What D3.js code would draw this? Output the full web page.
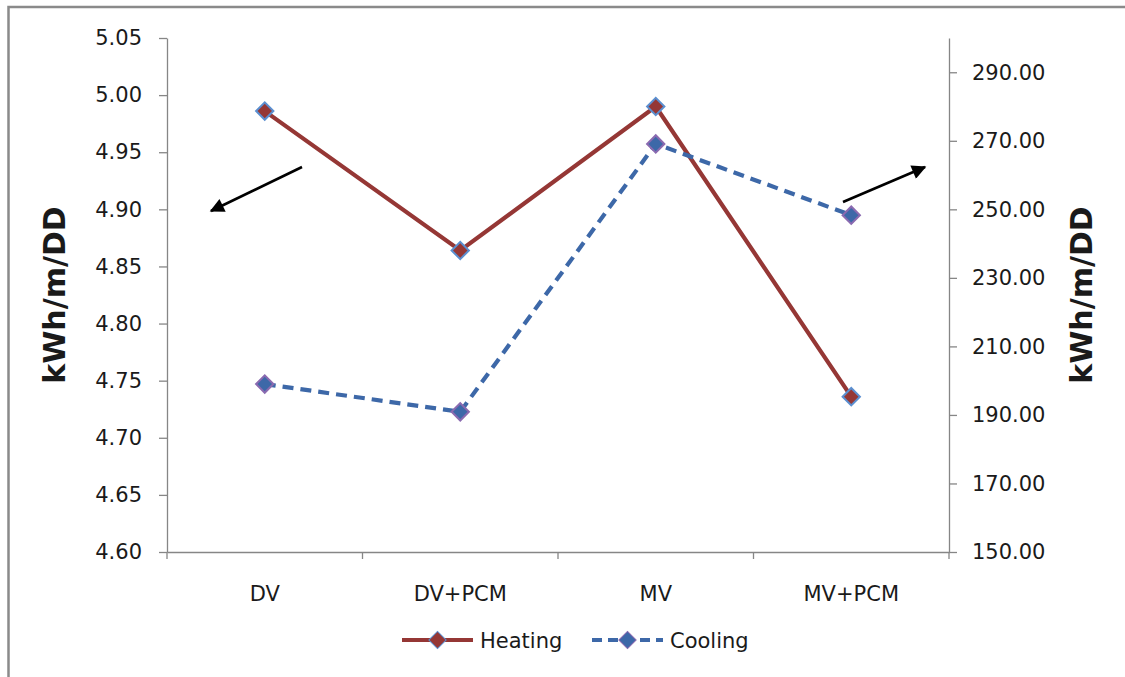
<!DOCTYPE html>
<html>
<head>
<meta charset="utf-8">
<script src="https://cdn.jsdelivr.net/npm/d3@7"></script>
<style>
  body { margin: 0; background: #fff; overflow: hidden; }
  svg { display: block; }
  svg text { font-family: "DejaVu Sans", sans-serif; fill: #1a1a1a; }
</style>
</head>
<body>
<div id="chart"></div>
<script>
// data
const categories = ["DV", "DV+PCM", "MV", "MV+PCM"];
const heating = [4.986, 4.864, 4.990, 4.736];   // left axis
const cooling = [199.0, 190.9, 269.1, 248.3];   // right axis
const leftTicks = [4.60, 4.65, 4.70, 4.75, 4.80, 4.85, 4.90, 4.95, 5.00, 5.05];
const rightTicks = [150, 170, 190, 210, 230, 250, 270, 290];

const W = 1125, H = 677;
const plot = {left: 167, right: 949, top: 38, bottom: 552};

const svg = d3.select("#chart").append("svg")
    .attr("width", W)
    .attr("height", H);

// outer frame: only its top and left edges are inside the picture
svg.append("path")
    .attr("d", "M8.5," + H + " V7 H" + W)
    .attr("fill", "none")
    .attr("stroke", "#8a8a8a")
    .attr("stroke-width", 2.5);

const x = d3.scaleBand()
    .domain(categories)
    .range([plot.left, plot.right]);

const yL = d3.scaleLinear()
    .domain([4.60, 5.05])
    .range([plot.bottom, plot.top]);

const yR = d3.scaleLinear()
    .domain([150, 300])
    .range([plot.bottom, plot.top]);

const axisColor = "#868686";

// left axis
const gL = svg.append("g")
    .attr("transform", "translate(" + plot.left + ",0)")
    .call(d3.axisLeft(yL).tickValues(leftTicks).tickFormat(d3.format(".2f"))
        .tickSizeInner(8).tickSizeOuter(0).tickPadding(17));

// right axis
const gR = svg.append("g")
    .attr("transform", "translate(" + plot.right + ",0)")
    .call(d3.axisRight(yR).tickValues(rightTicks).tickFormat(d3.format(".2f"))
        .tickSizeInner(8).tickSizeOuter(0).tickPadding(15));

// bottom axis: labels at band centres, ticks at band edges
const gB = svg.append("g")
    .attr("transform", "translate(0," + plot.bottom + ")")
    .call(d3.axisBottom(x).tickSize(0).tickSizeOuter(0).tickPadding(34));

const edges = categories.map(c => x(c)).concat([x.range()[1]]);
gB.selectAll(".edge").data(edges).enter().append("line")
    .attr("class", "edge")
    .attr("x1", d => d).attr("x2", d => d)
    .attr("y1", 0).attr("y2", 7);

[gL, gR, gB].forEach(g => {
    g.select(".domain").attr("stroke", axisColor).attr("stroke-width", 1.3);
    g.selectAll("line").attr("stroke", axisColor).attr("stroke-width", 1.3);
    g.selectAll("text")
        .style("font-family", "'DejaVu Sans', sans-serif")
        .style("font-size", "21px")
        .attr("fill", "#1a1a1a");
});

// axis titles
[{px: 65, label: "kWh/m/DD"}, {px: 1092, label: "kWh/m/DD"}].forEach(t => {
    svg.append("text")
        .attr("transform", "translate(" + t.px + "," + ((plot.top + plot.bottom) / 2) + ") rotate(-90)")
        .attr("text-anchor", "middle")
        .style("font-size", "30px")
        .style("font-weight", "bold")
        .text(t.label);
});

const cx = c => x(c) + x.bandwidth() / 2;

const heatColor = "#953735", coolColor = "#3D68A8";

// lines
const lineL = d3.line().x((d, i) => cx(categories[i])).y(d => yL(d));
const lineR = d3.line().x((d, i) => cx(categories[i])).y(d => yR(d));

svg.append("path")
    .datum(heating)
    .attr("d", lineL)
    .attr("fill", "none")
    .attr("stroke", heatColor)
    .attr("stroke-width", 4.2);

svg.append("path")
    .datum(cooling)
    .attr("d", lineR)
    .attr("fill", "none")
    .attr("stroke", coolColor)
    .attr("stroke-width", 4.2)
    .attr("stroke-dasharray", "11,7");

// diamond markers
const diamond = d3.symbol().type(d3.symbolSquare).size(150);

function markers(values, yScale, fill, stroke) {
    svg.append("g").selectAll("path")
        .data(values).enter().append("path")
        .attr("d", diamond)
        .attr("transform", (d, i) => "translate(" + cx(categories[i]) + "," + yScale(d) + ") rotate(45)")
        .attr("fill", fill)
        .attr("stroke", stroke)
        .attr("stroke-width", 2);
}
markers(heating, yL, heatColor, "#5B8FD0");
markers(cooling, yR, coolColor, "#8A6AB0");

// arrows pointing to the axis each series uses
const defs = svg.append("defs");
defs.append("marker")
    .attr("id", "head")
    .attr("viewBox", "0 0 10 10")
    .attr("refX", 9).attr("refY", 5)
    .attr("markerWidth", 6.5).attr("markerHeight", 5.5)
    .attr("markerUnits", "strokeWidth")
    .attr("orient", "auto")
    .append("path")
    .attr("d", "M0,0 L10,5 L0,10 z")
    .attr("fill", "#000");

const arrows = [
    {x1: 302, y1: 167, x2: 211, y2: 211},
    {x1: 843, y1: 202, x2: 925, y2: 167}
];
svg.selectAll(".arrow").data(arrows).enter().append("line")
    .attr("class", "arrow")
    .attr("x1", d => d.x1).attr("y1", d => d.y1)
    .attr("x2", d => d.x2).attr("y2", d => d.y2)
    .attr("stroke", "#000")
    .attr("stroke-width", 2.6)
    .attr("marker-end", "url(#head)");

// legend
const legend = svg.append("g").attr("transform", "translate(0,640)");
const legendItems = [
    {label: "Heating", x0: 402, color: heatColor, dash: null, stroke: "#5B8FD0"},
    {label: "Cooling", x0: 592, color: coolColor, dash: "10,6", stroke: "#8A6AB0"}
];
legendItems.forEach(it => {
    legend.append("line")
        .attr("x1", it.x0).attr("x2", it.x0 + 71)
        .attr("y1", 0).attr("y2", 0)
        .attr("stroke", it.color)
        .attr("stroke-width", 4.2)
        .attr("stroke-dasharray", it.dash);
    legend.append("path")
        .attr("d", diamond)
        .attr("transform", "translate(" + (it.x0 + 35.5) + ",0) rotate(45)")
        .attr("fill", it.color)
        .attr("stroke", it.stroke)
        .attr("stroke-width", 1);
    legend.append("text")
        .attr("x", it.x0 + 78)
        .attr("y", 8)
        .style("font-size", "21px")
        .text(it.label);
});
</script>
</body>
</html>
